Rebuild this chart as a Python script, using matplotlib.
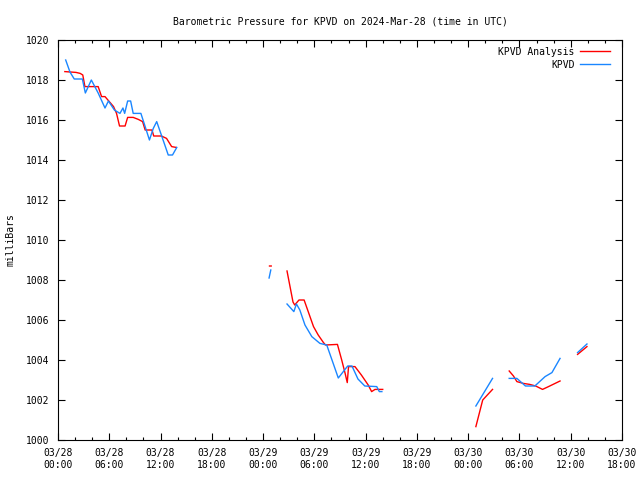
import numpy as np
import pandas as pd
import matplotlib
matplotlib.use('Agg')
import matplotlib.pyplot as plt
import matplotlib.dates as mdates

# hours after 2024-03-28 00:00 UTC, NaN marks a gap in the record
obs_hours = [0.9, 1.4, 1.9, 2.85, 3.2, 3.9, 4.7, 5.5, 5.9, 6.6, 7.25, 7.6, 7.8,
             8.15, 8.5, 8.8, 9.7, 10.2, 10.7, 11.15, 11.55, 12.5, 12.9, 13.4, 13.9,
             np.nan, 24.7, 24.9,
             np.nan, 26.8, 27.6, 27.9, 28.3, 28.9, 29.7, 30.65, 31.45, 32.8, 33.9,
             34.4, 35.1, 35.9, 37.3, 37.6, 37.9,
             np.nan, 48.9, 50.85,
             np.nan, 52.8, 53.7, 54.7, 55.8, 57.0, 57.8, 58.75,
             np.nan, 60.8, 61.9]
obs_pres = [1019.0, 1018.4, 1018.05, 1018.05, 1017.35, 1018.0, 1017.35, 1016.6,
            1016.95, 1016.5, 1016.33, 1016.6, 1016.33, 1016.95, 1016.95, 1016.33,
            1016.33, 1015.67, 1015.0, 1015.58, 1015.92, 1014.75, 1014.25, 1014.25,
            1014.63,
            np.nan, 1008.1, 1008.5,
            np.nan, 1006.8, 1006.42, 1006.8, 1006.5, 1005.75, 1005.17, 1004.83,
            1004.75, 1003.1, 1003.7, 1003.7, 1003.05, 1002.7, 1002.67, 1002.42,
            1002.42,
            np.nan, 1001.7, 1003.08,
            np.nan, 1003.08, 1003.08, 1002.7, 1002.7, 1003.17, 1003.37, 1004.08,
            np.nan, 1004.37, 1004.8]

ana_hours = [0.8, 2.1, 2.6, 2.9, 3.15, 4.7, 5.1, 5.5, 6.5, 6.85, 7.2, 7.85, 8.15,
             8.8, 9.4, 9.9, 10.2, 11.0, 11.2, 12.1, 12.7, 13.3, 13.8,
             np.nan, 24.75, 24.95,
             np.nan, 26.8, 27.5, 27.7, 28.2, 28.8, 29.9, 30.45, 31.05, 31.3, 32.7,
             33.2, 33.6, 33.85, 34.0, 34.75, 35.5, 36.3, 36.7, 37.1, 38.0,
             np.nan, 48.9, 49.7, 50.85,
             np.nan, 52.8, 53.3, 53.7, 54.45, 55.2, 55.9, 56.7, 57.4, 58.75,
             np.nan, 60.8, 61.9]
ana_pres = [1018.42, 1018.38, 1018.33, 1018.25, 1017.67, 1017.67, 1017.17, 1017.17,
            1016.67, 1016.33, 1015.7, 1015.7, 1016.13, 1016.13, 1016.03, 1015.92,
            1015.5, 1015.5, 1015.2, 1015.2, 1015.08, 1014.67, 1014.63,
            np.nan, 1008.7, 1008.7,
            np.nan, 1008.45, 1006.9, 1006.75, 1007.0, 1007.0, 1005.67, 1005.25,
            1004.88, 1004.75, 1004.78, 1004.0, 1003.33, 1002.87, 1003.67, 1003.67,
            1003.25, 1002.75, 1002.42, 1002.53, 1002.53,
            np.nan, 1000.67, 1002.0, 1002.53,
            np.nan, 1003.45, 1003.2, 1002.92, 1002.83, 1002.78, 1002.7, 1002.53,
            1002.67, 1002.95,
            np.nan, 1004.28, 1004.67]

start = pd.Timestamp('2024-03-28 00:00')
end = pd.Timestamp('2024-03-30 18:00')
t0 = mdates.date2num(start)

def to_times(hours):
    # matplotlib date numbers, NaN stays NaN so the line breaks there
    return t0 + np.asarray(hours, dtype=float) / 24.0

plt.rcParams['font.family'] = 'DejaVu Sans Mono'
plt.rcParams['font.size'] = 7

fig = plt.figure(figsize=(6.4, 4.8), dpi=100)
ax = fig.add_axes([58 / 640, 40 / 480, 564 / 640, 400 / 480])

ax.plot(to_times(ana_hours), ana_pres, color='#ff0000', lw=1.0, label='KPVD Analysis')
ax.plot(to_times(obs_hours), obs_pres, color='#1a86ff', lw=1.0, label='KPVD')

ax.xaxis_date()
ax.set_xlim(start, end)
ax.set_ylim(1000, 1020)
ax.set_yticks(np.arange(1000, 1021, 2))
ax.xaxis.set_major_locator(mdates.HourLocator(byhour=[0, 6, 12, 18]))
ax.xaxis.set_minor_locator(mdates.HourLocator(interval=2))
ax.xaxis.set_major_formatter(mdates.DateFormatter('%m/%d\n%H:%M'))
ax.tick_params(which='both', direction='in', top=True, right=True, width=0.8)
ax.tick_params(which='major', length=5, pad=6)
ax.tick_params(which='minor', length=2.5)
for s in ax.spines.values():
    s.set_linewidth(0.8)

ax.set_title('Barometric Pressure for KPVD on 2024-Mar-28 (time in UTC)',
             fontsize=7, pad=11)
ax.set_ylabel('milliBars', labelpad=8)
ax.legend(loc='upper right', markerfirst=False, frameon=False, handlelength=3.0,
          handletextpad=0.6, labelspacing=0.3, borderaxespad=0.3,
          bbox_to_anchor=(0.99, 1.0))

fig.savefig('out.png', dpi=100)
